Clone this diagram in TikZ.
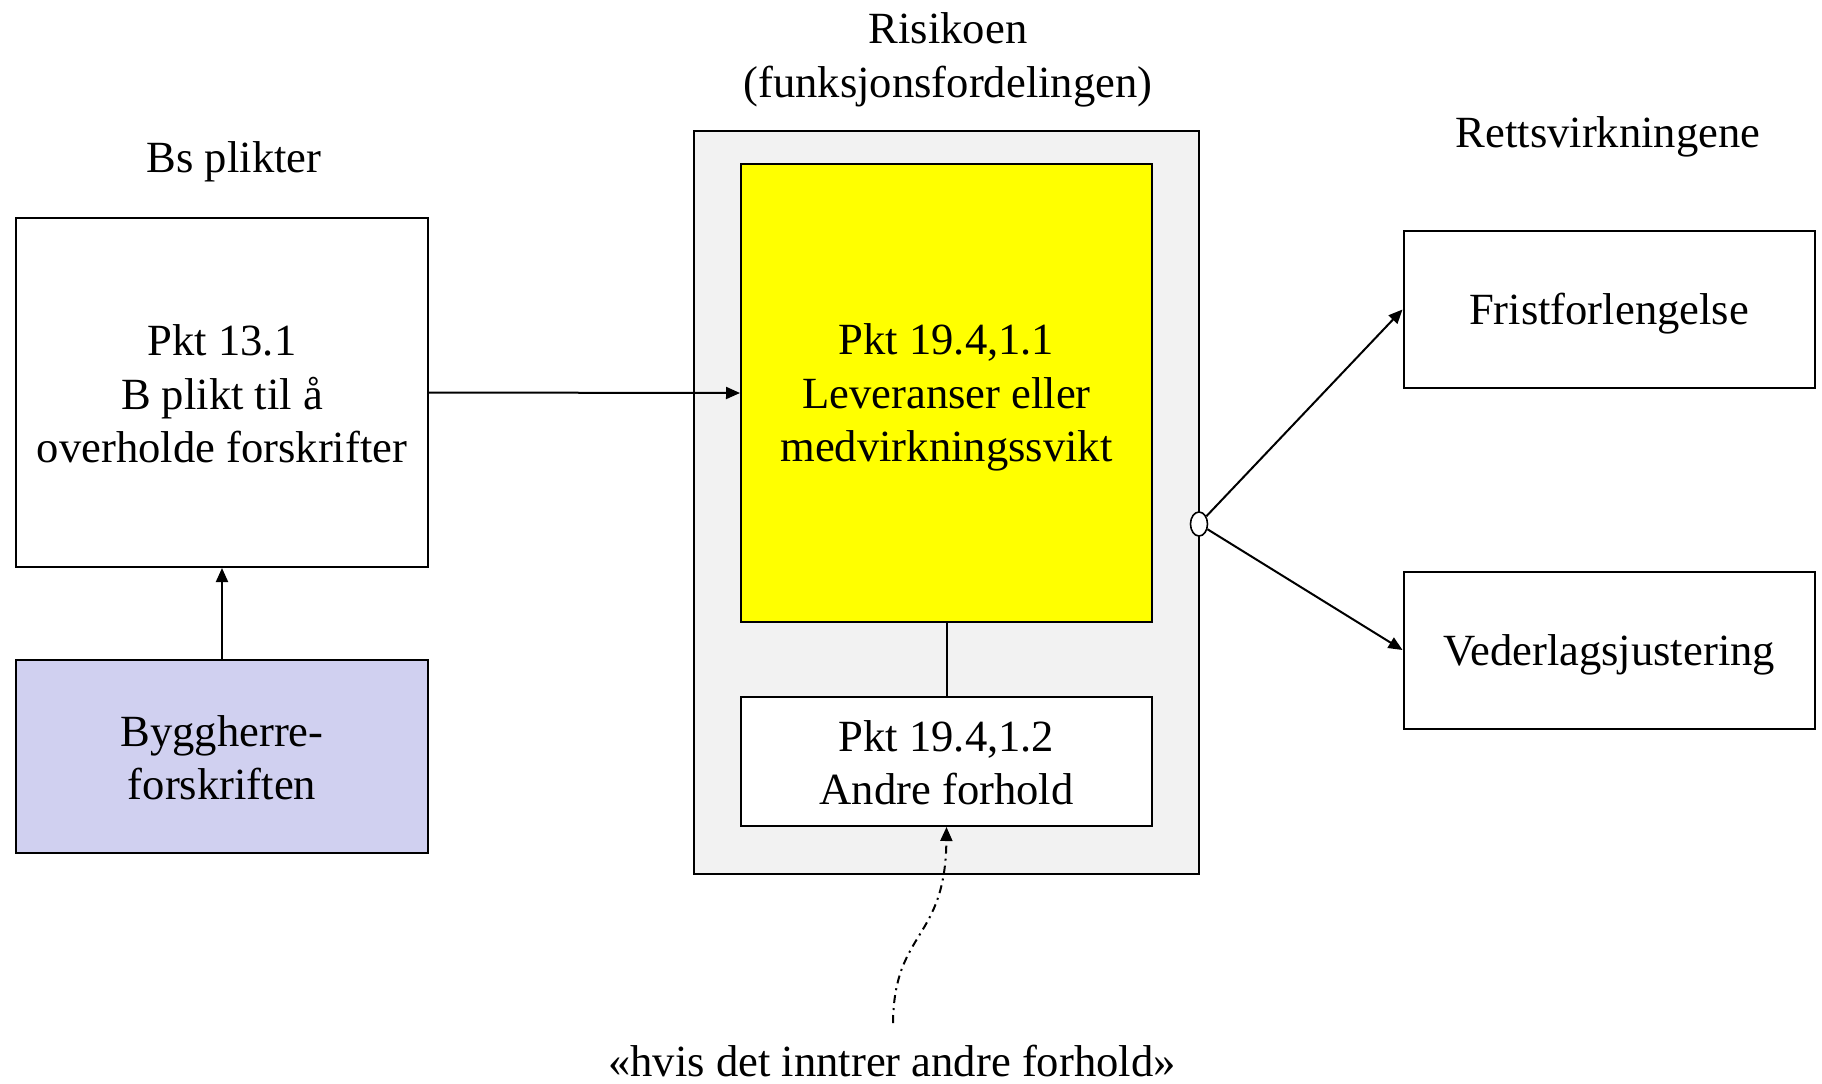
\documentclass[tikz,border=0pt]{standalone}
\usepackage{fontspec}
\setmainfont{Liberation Serif}
\usetikzlibrary{arrows.meta,shapes.geometric}
\definecolor{forskriftblue}{RGB}{208,208,240}
\definecolor{risikogray}{RGB}{242,242,242}
\definecolor{pktyellow}{RGB}{255,255,0}
% linjestrutter som i tekstbehandleren
\newcommand{\ts}{\rule{0pt}{0.891em}}
\newcommand{\bs}{\rule[-0.15em]{0pt}{0.15em}}
\tikzset{
    boks/.style={draw, line width=1pt, align=center, inner sep=0pt, font=\fontsize{22.3}{26.8}\selectfont},
    tittel/.style={anchor=base, align=center, font=\fontsize{22.3}{26.8}\selectfont},
    pil/.style={-{Triangle[length=7pt,width=6pt]}, line width=1pt},
}

\begin{document}
\begin{tikzpicture}[x=0.5pt, y=-0.5pt]
    \useasboundingbox (0,0) rectangle (1822,1083);
    % Bs plikter
    \node[tittel] (bsplikter) at (234,172) {Bs plikter};
    \node[boks, minimum width=206pt, minimum height=174.5pt] (pkt131) at (222,392.5) {\ts Pkt 13.1\\B plikt til å\\overholde forskrifter\bs};
    \node[boks, fill=forskriftblue, minimum width=206pt, minimum height=96.5pt] (byggherre) at (222,756.5) {\ts Byggherre-\\forskriften\bs};
    % Risikoen
    \node[tittel, anchor=center] (risikoen) at (948,60) {Risikoen\\(funksjonsfordelingen)};
    \node[boks, fill=risikogray, minimum width=252.5pt, minimum height=371.5pt] (risiko) at (946.5,502.5) {};
    \node[boks, fill=pktyellow, minimum width=205.5pt, minimum height=229pt] (pkt1911) at (946.5,393) {\ts Pkt 19.4,1.1\\Leveranser eller\\medvirkningssvikt\bs};
    \node[boks, fill=white, minimum width=205.5pt, minimum height=64.5pt] (pkt1912) at (946.5,761.5) {\ts Pkt 19.4,1.2\\Andre forhold\bs};
    \node[draw, ellipse, fill=white, line width=0.8pt, inner sep=0pt, minimum width=8.5pt, minimum height=12pt] (kobling) at (1199,524) {};
    % Rettsvirkningene
    \node[tittel] (retts) at (1608,147) {Rettsvirkningene};
    \node[boks, minimum width=205.5pt, minimum height=78.5pt] (frist) at (1609,309.5) {\ts Fristforlengelse\bs};
    \node[boks, minimum width=205.5pt, minimum height=78.5pt] (vederlag) at (1609,650) {\ts Vederlagsjustering\bs};
    \node[tittel] (hvis) at (892,1076) {«hvis det inntrer andre forhold»};
    \coordinate (hvisstart) at (893,1023);
    % forbindelser
    \draw[pil] (pkt131.east) -- (pkt1911.west);
    \draw[pil] (byggherre) -- (pkt131);
    \draw[line width=1pt] (pkt1911) -- (pkt1912);
    \draw[pil] (kobling) -- (frist.west);
    \draw[pil] (kobling) -- (vederlag.west);
    \draw[pil, dash pattern=on 4pt off 2.5pt on 1pt off 2.5pt] (hvisstart) .. controls +(1,-93) and +(-1,114) .. (pkt1912.south);
\end{tikzpicture}
\end{document}
